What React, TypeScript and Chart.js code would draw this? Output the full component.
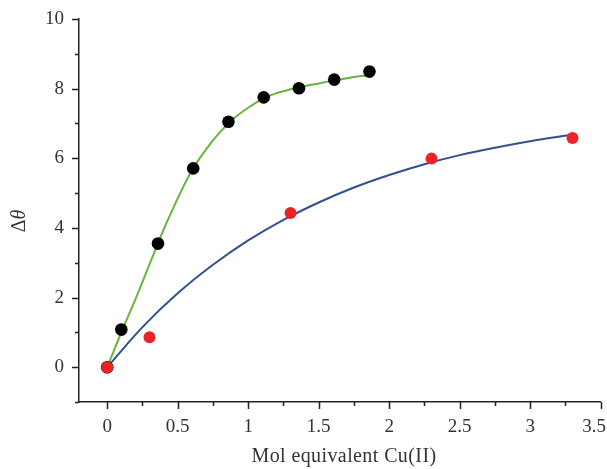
import React, { useEffect, useRef } from "react";
import { Chart, registerables } from "chart.js";

Chart.register(...registerables);

// Measured titration points
const blackX = [0, 0.1, 0.36, 0.61, 0.86, 1.11, 1.36, 1.61, 1.86];
const blackY = [0, 1.08, 3.55, 5.71, 7.05, 7.75, 8.01, 8.26, 8.49];
const redX = [0, 0.3, 1.3, 2.3, 3.3];
const redY = [0, 0.86, 4.43, 5.99, 6.58];

// Fitted curves
const greenCurveX = [0, 0.1, 0.2, 0.3, 0.4, 0.5, 0.6, 0.7, 0.8, 0.9, 1.0, 1.1, 1.2, 1.3, 1.4, 1.5, 1.6, 1.7, 1.8, 1.86];
const greenCurveY = [0, 1.0, 1.95, 2.95, 3.95, 4.85, 5.65, 6.25, 6.75, 7.15, 7.45, 7.7, 7.87, 7.98, 8.07, 8.15, 8.23, 8.3, 8.36, 8.39];
const blueCurveX = [0, 0.25, 0.5, 0.75, 1.0, 1.25, 1.5, 1.75, 2.0, 2.25, 2.5, 2.75, 3.0, 3.3];
const blueCurveY = [0, 1.15, 2.12, 2.94, 3.64, 4.23, 4.73, 5.16, 5.52, 5.83, 6.09, 6.3, 6.49, 6.68];

// Axis ticks
const xTicks = [0, 0.5, 1, 1.5, 2, 2.5, 3, 3.5];
const xMinorTicks = [0.25, 0.75, 1.25, 1.75, 2.25, 2.75, 3.25];
const yTicks = [0, 2, 4, 6, 8, 10];
const yMinorTicks = [-1, 1, 3, 5, 7, 9];

const FONT = "'Liberation Serif', 'Times New Roman', serif";
const AXIS_COLOR = "#222";
const TEXT_COLOR = "#333";

const zip = (xs: number[], ys: number[]) => xs.map((x, i) => ({ x, y: ys[i] }));

// Tick marks (major + minor), tick labels and axis titles
const axisDecor = {
  id: "axisDecor",
  afterDraw(chart: any) {
    const { ctx, chartArea, scales, width } = chart;
    const xs = scales.x;
    const ys = scales.y;
    ctx.save();
    ctx.strokeStyle = AXIS_COLOR;
    ctx.lineWidth = 1.5;
    ctx.beginPath();
    xTicks.forEach((v) => {
      const px = Math.round(xs.getPixelForValue(v)) + 0.5;
      ctx.moveTo(px, chartArea.bottom);
      ctx.lineTo(px, chartArea.bottom + 7);
    });
    xMinorTicks.forEach((v) => {
      const px = Math.round(xs.getPixelForValue(v)) + 0.5;
      ctx.moveTo(px, chartArea.bottom);
      ctx.lineTo(px, chartArea.bottom + 4);
    });
    yTicks.forEach((v) => {
      const py = Math.round(ys.getPixelForValue(v)) + 0.5;
      ctx.moveTo(chartArea.left, py);
      ctx.lineTo(chartArea.left - 7, py);
    });
    yMinorTicks.forEach((v) => {
      const py = Math.round(ys.getPixelForValue(v)) + 0.5;
      ctx.moveTo(chartArea.left, py);
      ctx.lineTo(chartArea.left - 4, py);
    });
    ctx.stroke();

    ctx.fillStyle = TEXT_COLOR;
    ctx.font = `19px ${FONT}`;
    ctx.textBaseline = "middle";

    // x tick labels, kept inside the canvas at the right edge
    ctx.textAlign = "center";
    xTicks.forEach((v) => {
      const label = String(v);
      const half = ctx.measureText(label).width / 2;
      const cx = Math.min(xs.getPixelForValue(v), width - 1 - half);
      ctx.fillText(label, cx, chartArea.bottom + 25);
    });
    ctx.textAlign = "right";
    yTicks.forEach((v) => {
      ctx.fillText(String(v), chartArea.left - 15, ys.getPixelForValue(v));
    });

    // Axis titles
    ctx.textAlign = "center";
    ctx.font = `20px ${FONT}`;
    (ctx as any).letterSpacing = "0.4px";
    ctx.fillText("Mol equivalent Cu(II)", 344, 457);
    (ctx as any).letterSpacing = "0px";

    ctx.translate(20, 221);
    ctx.rotate(-Math.PI / 2);
    ctx.textAlign = "left";
    const delta = "Δ";
    const theta = "θ";
    ctx.font = `20px ${FONT}`;
    const w1 = ctx.measureText(delta).width;
    ctx.font = `italic 20px ${FONT}`;
    const w2 = ctx.measureText(theta).width;
    const start = -(w1 + w2) / 2;
    ctx.font = `20px ${FONT}`;
    ctx.fillText(delta, start, 0);
    ctx.font = `italic 20px ${FONT}`;
    ctx.fillText(theta, start + w1, 0);
    ctx.restore();
  },
};

export default function App() {
  const canvasRef = useRef<HTMLCanvasElement | null>(null);

  useEffect(() => {
    document.body.style.margin = "0";
    const canvas = canvasRef.current;
    if (!canvas) return;
    const chart = new Chart(canvas, {
      type: "scatter",
      data: {
        datasets: [
          {
            label: "fit-green",
            data: zip(greenCurveX, greenCurveY),
            showLine: true,
            borderColor: "#6ab43e",
            borderWidth: 2,
            pointRadius: 0,
            cubicInterpolationMode: "monotone",
            order: 4,
          },
          {
            label: "fit-blue",
            data: zip(blueCurveX, blueCurveY),
            showLine: true,
            borderColor: "#33508f",
            borderWidth: 2,
            pointRadius: 0,
            cubicInterpolationMode: "monotone",
            order: 3,
          },
          {
            label: "black",
            data: zip(blackX, blackY),
            pointRadius: 6.3,
            pointBackgroundColor: "#000",
            pointBorderWidth: 0,
            borderColor: "#000",
            order: 2,
          },
          {
            label: "red",
            data: zip(redX, redY),
            pointRadius: 6,
            pointBackgroundColor: "#ec2227",
            pointBorderWidth: 0,
            borderColor: "#ec2227",
            order: 1,
          },
        ],
      } as any,
      options: {
        animation: false,
        responsive: false,
        layout: { padding: { top: 19, right: 6, left: 0, bottom: 0 } },
        plugins: { legend: { display: false }, tooltip: { enabled: false } },
        scales: {
          x: {
            type: "linear",
            min: -0.2,
            max: 3.5,
            grid: { display: false },
            border: { display: true, color: AXIS_COLOR, width: 1.5 },
            afterFit: (s: any) => {
              s.height = 67;
            },
            ticks: { display: false },
          },
          y: {
            type: "linear",
            min: -1,
            max: 10,
            grid: { display: false },
            border: { display: true, color: AXIS_COLOR, width: 1.5 },
            afterFit: (s: any) => {
              s.width = 79;
            },
            ticks: { display: false },
          },
        },
      } as any,
      plugins: [axisDecor],
    });
    return () => chart.destroy();
  }, []);

  return (
    <div style={{ width: 607, height: 469 }}>
      <canvas ref={canvasRef} width={607} height={469} />
    </div>
  );
}
